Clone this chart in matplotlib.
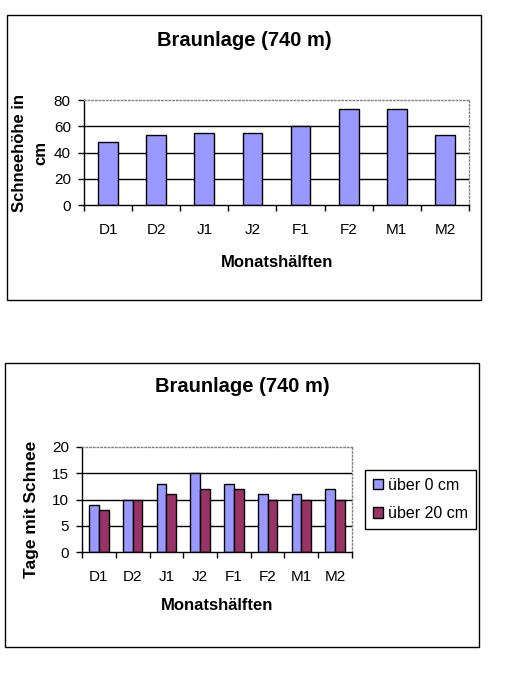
import numpy as np
import matplotlib.pyplot as plt
from matplotlib.patches import Rectangle

plt.rcParams['font.family'] = ['Liberation Sans', 'DejaVu Sans']

# Daten
halves = ["D1", "D2", "J1", "J2", "F1", "F2", "M1", "M2"]
snow_depth = [48, 53, 55, 54.5, 60.5, 73.5, 73.5, 53]
days_over_0 = [9, 10, 13, 15, 13, 11, 11, 12]
days_over_20 = [8, 10, 11, 12, 12, 10, 10, 10]
series_names = ["über 0 cm", "über 20 cm"]

title = "Braunlage (740 m)"
xlabel = "Monatshälften"

blue = "#9999ff"
purple = "#993366"

W, H = 510, 700
fig = plt.figure(figsize=(W / 100, H / 100), dpi=100)


def px_box(left, top, right, bottom):
    # Pixel -> Figurkoordinaten
    return [left / W, 1 - bottom / H, (right - left) / W, (bottom - top) / H]


def frame(left, top, right, bottom):
    x, y, w, h = px_box(left, top, right, bottom)
    fig.patches.append(Rectangle((x, y), w, h, transform=fig.transFigure,
                                 fill=False, edgecolor="black", lw=1))


def style_axes(ax, ymax, ystep):
    n = len(halves)
    ax.set_xlim(0, n)
    ax.set_ylim(0, ymax)
    yt = np.arange(0, ymax + ystep, ystep)
    ax.set_yticks(yt)
    ax.set_yticklabels([f"{v:g}" for v in yt], fontsize=11)
    for v in yt[1:-1]:
        ax.axhline(v, color="black", lw=1, zorder=1)
    ax.set_xticks(np.arange(0, n + 1))
    ax.set_xticklabels([])
    ax.set_xticks(np.arange(n) + 0.5, minor=True)
    ax.set_xticklabels(halves, minor=True, fontsize=11)
    ax.tick_params(axis="x", which="major", length=4, width=1, direction="out")
    ax.tick_params(axis="x", which="minor", length=0, pad=13)
    ax.tick_params(axis="y", length=4.5, width=1, pad=5)
    for s in ["left", "bottom"]:
        ax.spines[s].set_color("black")
        ax.spines[s].set_linewidth(1)
    for s in ["top", "right"]:
        ax.spines[s].set_color("#808080")
        ax.spines[s].set_linestyle(":")
        ax.spines[s].set_linewidth(1)
    ax.set_facecolor("none")


# Diagramm 1: Schneehöhe
frame(7, 15, 481, 300)
ax1 = fig.add_axes(px_box(84, 100, 469, 205))
x = np.arange(len(halves)) + 0.5
ax1.bar(x, snow_depth, width=0.41, color=blue, edgecolor="black", lw=1, zorder=2)
style_axes(ax1, 80, 20)
fig.text(244 / W, 1 - 40 / H, title, fontsize=14.5, fontweight="bold", ha="center", va="center")
fig.text(277 / W, 1 - 263 / H, xlabel, fontsize=12, fontweight="bold", ha="center", va="center")
fig.text(30 / W, 1 - 153 / H, "Schneehöhe in\ncm", fontsize=12, fontweight="bold",
         rotation=90, ha="center", va="center", multialignment="center", linespacing=1.5)

# Diagramm 2: Tage mit Schnee
frame(5, 363, 479, 647)
ax2 = fig.add_axes(px_box(82, 447, 352, 552))
bw = 0.29
ax2.bar(x - bw / 2, days_over_0, width=bw, color=blue, edgecolor="black", lw=1,
        zorder=2, label=series_names[0])
ax2.bar(x + bw / 2, days_over_20, width=bw, color=purple, edgecolor="black", lw=1,
        zorder=2, label=series_names[1])
style_axes(ax2, 20, 5)
fig.text(242 / W, 1 - 387 / H, title, fontsize=14.5, fontweight="bold", ha="center", va="center")
fig.text(217 / W, 1 - 606 / H, xlabel, fontsize=12, fontweight="bold", ha="center", va="center")
fig.text(32 / W, 1 - 509 / H, "Tage mit Schnee", fontsize=12.5, fontweight="bold",
         rotation=90, ha="center", va="center")

leg = fig.legend(loc="center", bbox_to_anchor=(420.5 / W, 1 - 499.5 / H), fontsize=11.5,
                 frameon=True, fancybox=False, edgecolor="black", framealpha=1,
                 handlelength=0.65, handleheight=0.65, handletextpad=0.3,
                 labelspacing=0.85, borderpad=0.5, borderaxespad=0)
leg.get_frame().set_linewidth(1)

fig.savefig("out.png", dpi=100)
